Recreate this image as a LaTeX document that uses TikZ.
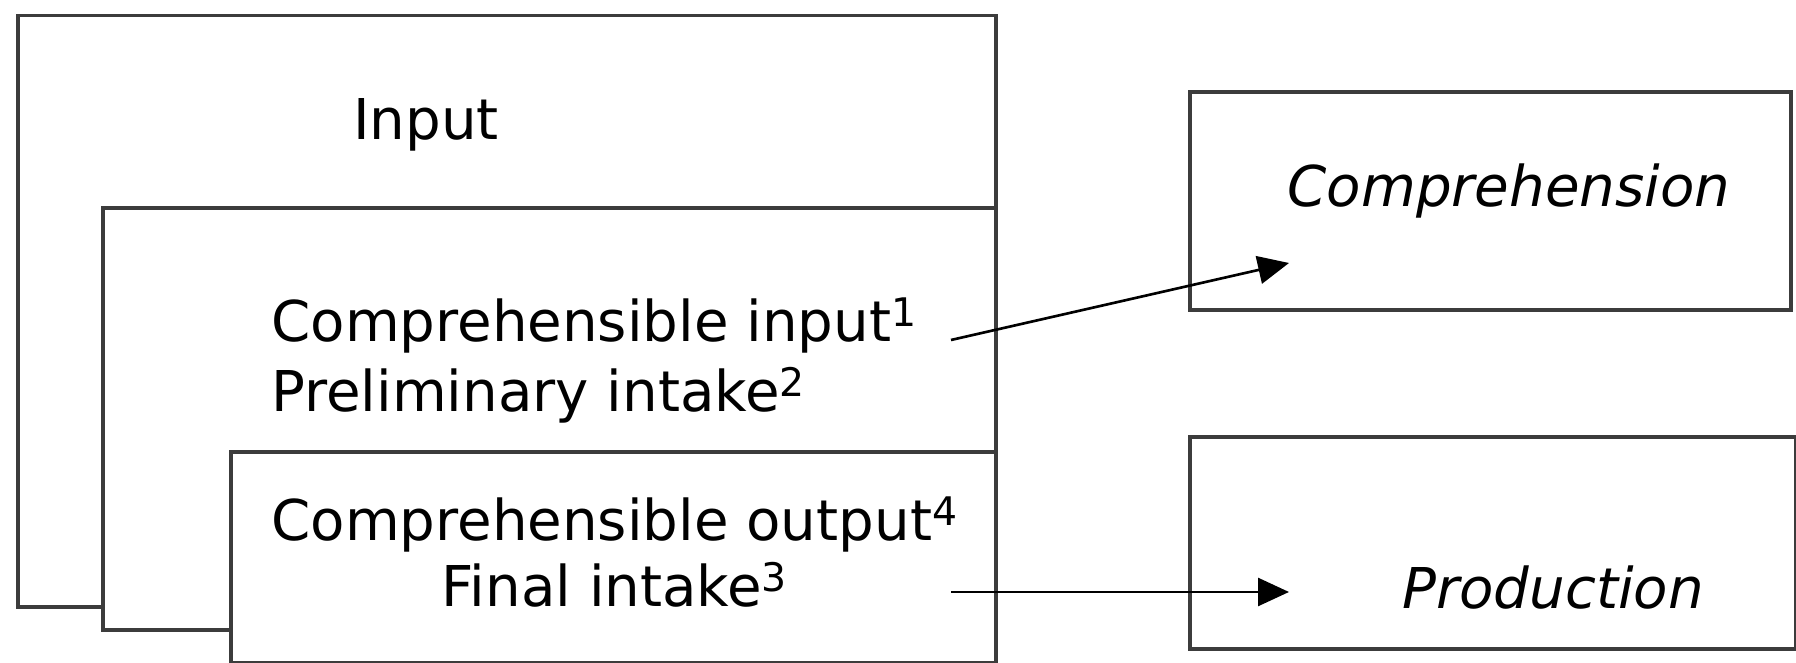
\documentclass[tikz,border=0pt]{standalone}
\usepackage{fontspec}
\setmainfont{DejaVu Sans}
\usetikzlibrary{arrows.meta,positioning,calc}
\definecolor{framegray}{RGB}{60,60,60}

\begin{document}
\begin{tikzpicture}[
 frame/.style={rectangle, draw=framegray, line width=2pt, fill=white, anchor=north west, inner sep=0pt},
 txt/.style={inner sep=0pt, font=\fontsize{32}{39}\selectfont},
 itxt/.style={txt, font=\fontsize{32}{39}\selectfont\itshape},
 arrow/.style={-{Triangle[length=0.62cm,width=0.56cm]}, line width=1.5pt, black}
]
\useasboundingbox (0,0) rectangle (35.92,13.26);

% Nested boxes on the left
\node[frame, minimum width=19.56cm, minimum height=11.82cm] (outer) at (0.32,12.98) {};
\node[frame, minimum width=17.86cm, minimum height=8.44cm] (middle) at (2.02,9.14) {};
\node[frame, minimum width=15.30cm, minimum height=4.22cm] (inner) at (4.58,4.26) {};

% Boxes on the right
\node[frame, minimum width=12.02cm, minimum height=4.36cm] (comp) at (23.76,11.46) {};
\node[frame, minimum width=12.12cm, minimum height=4.24cm] (prod) at (23.76,4.56) {};

% Texts
\node[txt, anchor=base] (input) at (8.52,10.46) {Input};
\node[txt, anchor=base west] (cin) at (5.42,6.42) {Comprehensible input\textsuperscript{1}};
\node[txt, anchor=base west] (prelim) at ([yshift=-1.4cm]cin.base west) {Preliminary intake\textsuperscript{2}};
\node[txt, anchor=base west] (cout) at (5.42,2.44) {Comprehensible output\textsuperscript{4}};
\node[txt, anchor=base] (final) at ([yshift=-1.32cm]cout.base) {Final intake\textsuperscript{3}};
\node[itxt, anchor=base] (complbl) at (30.18,9.12) {Comprehension};
\node[itxt, anchor=base] (prodlbl) at (31.06,1.08) {Production};

% Arrow ends
\coordinate (a1s) at (19.02,6.46);
\coordinate (a1e) at (25.78,8.00);
\coordinate (a2s) at (19.02,1.42);
\coordinate (a2e) at (25.78,1.42);

% Arrows
\draw[arrow] (a1s) -- (a1e);
\draw[arrow] (a2s) -- (a2e);

\end{tikzpicture}
\end{document}
